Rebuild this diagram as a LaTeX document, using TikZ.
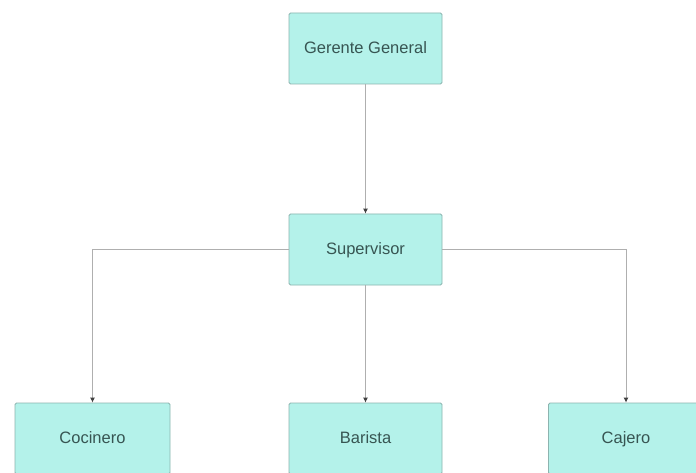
\documentclass[tikz,border=0pt]{standalone}
\usepackage{fontspec}
\setmainfont{Liberation Sans}
\usetikzlibrary{arrows.meta}
\definecolor{boxfill}{RGB}{180,242,234}
\definecolor{boxline}{RGB}{140,180,175}
\definecolor{boxtext}{RGB}{55,85,82}
\definecolor{linkgrey}{RGB}{175,175,175}
\begin{document}
\begin{tikzpicture}[x=1pt,y=-1pt,
  orgbox/.style={draw=boxline,fill=boxfill,line width=0.8pt,rounded corners=1.5pt,
    minimum width=153pt,minimum height=71pt,inner sep=0pt,
    text height=11pt,text depth=1pt,
    text=boxtext,font=\fontsize{16.5}{19}\selectfont},
  link/.style={draw=linkgrey,line width=0.9pt,-{Latex[length=5pt,width=5pt,color=black!75]}}]
\useasboundingbox[fill=white] (0,0) rectangle (696,473);
\node[orgbox] (gg) at (365.5,48.5) {Gerente General};
\node[orgbox] (sup) at (365.5,249.5) {Supervisor};
\node[orgbox,minimum width=155pt] (coc) at (92.5,438.5) {Cocinero};
\node[orgbox] (bar) at (365.5,438.5) {Barista};
\node[orgbox,minimum width=155pt] (caj) at (626,438.5) {Cajero};
\draw[link] (gg.south) -- (sup.north);
\draw[link] (sup.west) -| (coc.north);
\draw[link] (sup.south) -- (bar.north);
\draw[link] (sup.east) -| (caj.north);
\end{tikzpicture}
\end{document}
